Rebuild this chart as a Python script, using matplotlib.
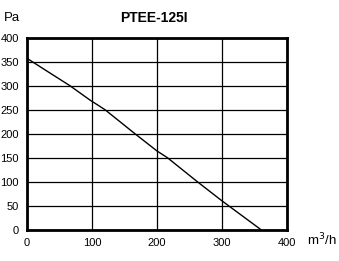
import matplotlib
matplotlib.use("Agg")
import matplotlib.pyplot as plt

# fan curve
flow = [0, 30, 66, 97, 120, 166, 200, 216, 262, 300, 310, 335, 360]
pressure = [357, 331, 300, 270, 250, 200, 164, 150, 100, 60, 50, 25, 0]

x_ticks = [0, 100, 200, 300, 400]
y_ticks = [0, 50, 100, 150, 200, 250, 300, 350, 400]

plt.rcParams['font.family'] = ['Liberation Sans', 'DejaVu Sans']

fig = plt.figure(figsize=(3.39, 2.61), dpi=100)
ax = fig.add_axes([0.0796, 0.12, 0.767, 0.7356])

ax.plot(flow, pressure, color="black", lw=1.0)

ax.set_xlim(0, 400)
ax.set_ylim(0, 400)
ax.set_xticks(x_ticks)
ax.set_yticks(y_ticks)
ax.tick_params(length=0, labelsize=8, pad=6)
ax.grid(color="black", lw=0.9)
for s in ax.spines.values():
    s.set_linewidth(2)

fig.text(0.012, 0.93, "Pa", fontsize=9.5, va="center")
fig.text(0.455, 0.93, "PTEE-125I", fontsize=10, fontweight="bold", ha="center", va="center")
fig.text(0.905, 0.08, "m$^3$/h", fontsize=9.5, va="center")

fig.savefig("out.png", dpi=100)
